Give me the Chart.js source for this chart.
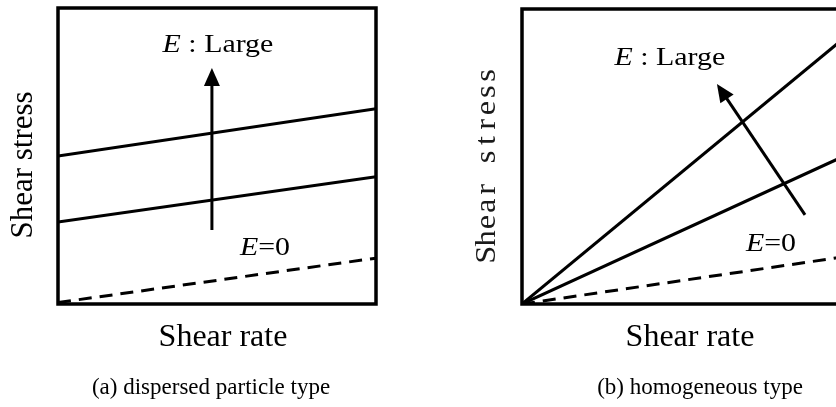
<!DOCTYPE html>
<html><head><meta charset="utf-8">
<script src="https://cdn.jsdelivr.net/npm/chart.js@4/dist/chart.umd.min.js"></script>
<style>
html,body{margin:0;padding:0;background:#fff;width:836px;height:407px;overflow:hidden;position:relative}
#ca{position:absolute;left:0;top:0}
#cb{position:absolute;left:418px;top:0}
</style></head><body>
<canvas id="ca" width="418" height="407"></canvas>
<canvas id="cb" width="440" height="407"></canvas>
<script>
// ---- data (normalised shear rate / shear stress) ----
const shearRate = [0, 1];
// (a) dispersed particle type
const dispLarge = [0.50, 0.66];
const dispMid   = [0.277, 0.43];
const dispZero  = [0.005, 0.155];
const dispArrowFrom = [0.484, 0.25];
const dispArrowTo   = [0.484, 0.797];
// (b) homogeneous type
const homoLarge = [0, 0.89];
const homoMid   = [0, 0.495];
const homoZero  = [0, 0.158];
const homoArrowFrom = [0.89, 0.302];
const homoArrowTo   = [0.613, 0.746];
// texts
const xTitle = "Shear rate";
const yTitle = "Shear stress";
const labelLarge = [{t:"E", it:true},{t:" : Large", it:false}];
const labelZero  = [{t:"E", it:true},{t:"=0", it:false}];
const captionA = "(a) dispersed particle type";
const captionB = "(b) homogeneous type";

const SERIF = '"Liberation Serif","Times New Roman",serif';

function pts(ys){ return shearRate.map((x,i)=>({x:x, y:ys[i]})); }
function ds(ys, dashed){
  return {data:pts(ys), borderColor:'#000', borderWidth:3,
    borderDash:dashed?[13,8]:[], pointRadius:0, tension:0, fill:false};
}
function drawParts(ctx, parts, cx, base, size, sx){
  let w=0;
  parts.forEach(p=>{ctx.font=(p.it?'italic ':'')+size+'px '+SERIF; p.w=ctx.measureText(p.t).width; w+=p.w;});
  ctx.save(); ctx.translate(cx, base); ctx.scale(sx,1);
  ctx.fillStyle='#000'; ctx.textBaseline='alphabetic'; ctx.textAlign='left';
  let x=-w/2;
  parts.forEach(p=>{ctx.font=(p.it?'italic ':'')+size+'px '+SERIF; ctx.fillText(p.t,x,0); x+=p.w;});
  ctx.restore();
}
function arrow(ctx, x1,y1,x2,y2){
  const a=Math.atan2(y2-y1,x2-x1), L=18, H=8;
  ctx.save(); ctx.strokeStyle='#000'; ctx.fillStyle='#000'; ctx.lineWidth=3;
  ctx.beginPath(); ctx.moveTo(x1,y1); ctx.lineTo(x2-Math.cos(a)*L*0.8, y2-Math.sin(a)*L*0.8); ctx.stroke();
  ctx.beginPath(); ctx.moveTo(x2,y2);
  ctx.lineTo(x2-Math.cos(a)*L-Math.sin(a)*H, y2-Math.sin(a)*L+Math.cos(a)*H);
  ctx.lineTo(x2-Math.cos(a)*L+Math.sin(a)*H, y2-Math.sin(a)*L-Math.cos(a)*H);
  ctx.closePath(); ctx.fill(); ctx.restore();
}

function makeChart(id, lines, arrowFrom, arrowTo, o){
  const deco = {
    id:'deco',
    afterDraw(chart){
      const ctx=chart.ctx, ca=chart.chartArea, sx=chart.scales.x, sy=chart.scales.y;
      ctx.save();
      ctx.strokeStyle='#000'; ctx.lineWidth=3.5;
      ctx.strokeRect(ca.left, ca.top, ca.right-ca.left, ca.bottom-ca.top);
      arrow(ctx, sx.getPixelForValue(arrowFrom[0]), sy.getPixelForValue(arrowFrom[1]),
                 sx.getPixelForValue(arrowTo[0]), sy.getPixelForValue(arrowTo[1]));
      drawParts(ctx, labelLarge, sx.getPixelForValue(o.large[0]), sy.getPixelForValue(o.large[1]), 26, 1.15);
      drawParts(ctx, labelZero, sx.getPixelForValue(o.zero[0]), sy.getPixelForValue(o.zero[1]), 26, 1.15);
      // x title & caption
      ctx.fillStyle='#000'; ctx.textAlign='center'; ctx.textBaseline='alphabetic';
      ctx.font='32px '+SERIF;
      ctx.fillText(xTitle, o.xt[0], o.xt[1]);
      ctx.font='23px '+SERIF;
      ctx.fillText(o.caption, o.cap[0], o.cap[1]);
      // y title
      ctx.save(); ctx.translate(o.yt[0], o.yt[1]); ctx.rotate(-Math.PI/2);
      ctx.textBaseline='middle';
      if (o.mono) {
        // fixed-pitch serif lettering
        ctx.font=o.yfont; ctx.fillStyle='#1a1a1a'; ctx.textAlign='center';
        const adv=o.mono, n=yTitle.length;
        for (let i=0;i<n;i++) {
          ctx.save(); ctx.translate((i+0.5-n/2)*adv, 0); ctx.scale(1.12,1);
          ctx.fillText(yTitle[i], 0, 0); ctx.restore();
        }
      } else {
        ctx.font=o.yfont; ctx.fillText(yTitle, 0, 0);
      }
      ctx.restore();
      ctx.restore();
    }
  };
  return new Chart(document.getElementById(id), {
    type:'line',
    data:{datasets: lines},
    options:{
      responsive:false, animation:false, events:[],
      layout:{padding:o.pad},
      plugins:{legend:{display:false}, tooltip:{enabled:false}},
      scales:{
        x:{type:'linear', min:0, max:1, display:false},
        y:{type:'linear', min:0, max:1, display:false}
      }
    },
    plugins:[deco]
  });
}

makeChart('ca', [ds(dispLarge), ds(dispMid), ds(dispZero,true)], dispArrowFrom, dispArrowTo, {
  pad:{left:58, top:8, right:42, bottom:103},
  large:[0.503, 0.85], zero:[0.651, 0.165],
  xt:[223, 346], cap:[211, 394], caption:captionA,
  yt:[24, 165], yfont:'31px '+SERIF
});
makeChart('cb', [ds(homoLarge), ds(homoMid), ds(homoZero,true)], homoArrowFrom, homoArrowTo, {
  pad:{left:104, top:9, right:18, bottom:103},
  large:[0.465, 0.81], zero:[0.783, 0.18],
  xt:[272, 346], cap:[282, 394], caption:captionB,
  yt:[69, 165], yfont:'29px '+SERIF, mono:16.3
});
</script>
</body></html>
